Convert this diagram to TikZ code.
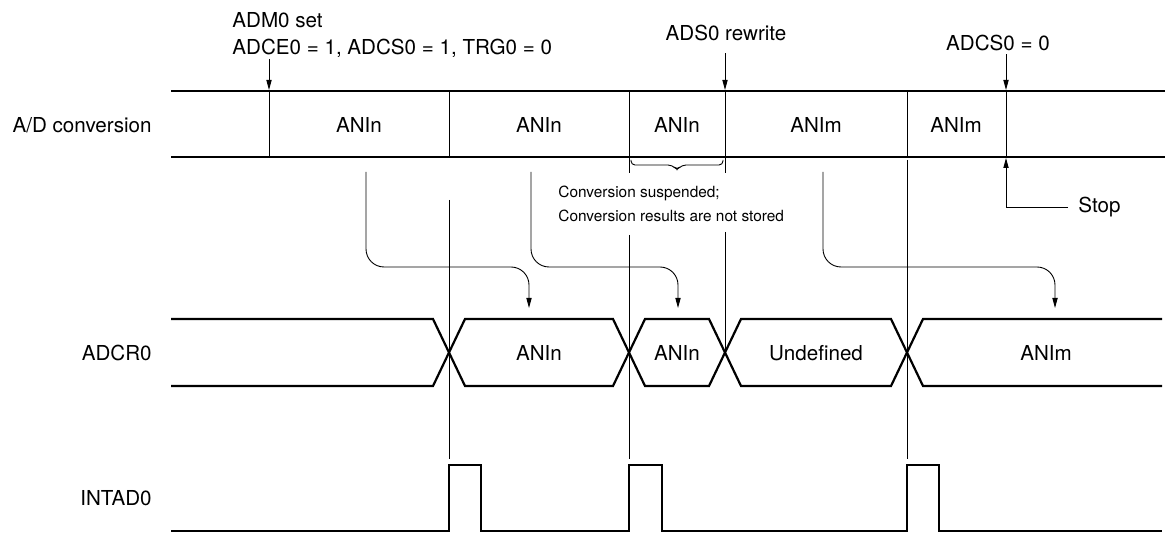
\documentclass[tikz,border=0pt]{standalone}
\usepackage{fontspec}
\setmainfont{TeX Gyre Heros}
\usetikzlibrary{arrows.meta}

\begin{document}
\begin{tikzpicture}[x=0.5pt, y=-0.5pt,
  sig/.style={line width=1.1pt, line join=miter},
  vline/.style={line width=0.45pt},
  arr/.style={line width=0.45pt, -{Triangle[length=5pt, width=2.6pt]}},
  bendarr/.style={arr, rounded corners=9pt},
  lbl/.style={font=\fontsize{10.3}{12}\selectfont, inner sep=0pt},
  note/.style={font=\fontsize{7.7}{10}\selectfont, inner sep=0pt, anchor=west},
]
\useasboundingbox (0,0) rectangle (1165,533);

% --- Signal names ---
\node[lbl, anchor=east] (adname) at (152,125) {A/D conversion};
\node[lbl, anchor=east] (crname) at (152,353) {ADCR0};
\node[lbl, anchor=east] (inname) at (152,498) {INTAD0};

% --- A/D conversion band ---
\draw[sig] (171,91) -- (1165,91);
\draw[sig] (171,157) -- (1165,157);
\foreach \t in {269,449,629,725,907,1006}
  \draw[vline] (\t,91) -- (\t,157);
\node[lbl] (c1) at (359,125) {ANIn};
\node[lbl] (c2) at (539,125) {ANIn};
\node[lbl] (c3) at (677,125) {ANIn};
\node[lbl] (c4) at (816,125) {ANIm};
\node[lbl] (c5) at (956,125) {ANIm};

% --- Events ---
\node[lbl, anchor=west] (set1) at (232,20) {ADM0 set};
\node[lbl, anchor=west] (set2) at (232,48) {ADCE0 = 1, ADCS0 = 1, TRG0 = 0};
\node[lbl] (rewr) at (726,33) {ADS0 rewrite};
\node[lbl] (clr) at (998,43) {ADCS0 = 0};
\coordinate (eA) at (269,90);
\coordinate (eD) at (725,90);
\coordinate (eF) at (1006,90);
\draw[arr] (269,59) -- (eA);
\draw[arr] (rewr.south -| eD) ++(0,12) -- (eD);
\draw[arr] (clr.south -| eF) ++(0,3) -- (eF);

% Stop
\node[lbl, anchor=west] (stop) at (1078,207) {Stop};
\draw[arr] (1068,207) -- (1006,207) -- (1006,158);

% Suspended span
\draw[vline] (629,157) -- (629,173);
\draw[vline] (725,157) -- (725,173);
\draw[vline, rounded corners=2pt] (631,160) |- (672,165) -- (677,170) -- (682,165) -| (723,160);
\node[note] (sus1) at (558,193) {Conversion suspended;};
\node[note] (sus2) at (558,216) {Conversion results are not stored};

% --- Result transfer ---
\draw[bendarr] (366,172) |- (529,267) -- (529,308);
\draw[bendarr] (531,172) |- (678,267) -- (678,308);
\draw[bendarr] (823,172) |- (1055,267) -- (1055,308);

% --- Guide lines ---
\draw[vline] (449,200) -- (449,459);
\draw[vline] (629,235) -- (629,459);
\draw[vline] (725,232) -- (725,353);
\draw[vline] (907,160) -- (907,459);

% --- ADCR0 ---
\draw[sig] (171,319) -- (433,319) -- (465,386) -- (613,386) -- (645,319)
  -- (709,319) -- (741,386) -- (891,386) -- (923,319) -- (1162,319);
\draw[sig] (171,386) -- (433,386) -- (465,319) -- (613,319) -- (645,386)
  -- (709,386) -- (741,319) -- (891,319) -- (923,386) -- (1162,386);
\node[lbl] (r1) at (539,353) {ANIn};
\node[lbl] (r2) at (677,353) {ANIn};
\node[lbl] (r3) at (816,353) {Undefined};
\node[lbl] (r4) at (1046,353) {ANIm};

% --- INTAD0 ---
\draw[sig] (171,531) -- (449,531) -- (449,465) -- (481,465) -- (481,531)
  -- (629,531) -- (629,465) -- (662,465) -- (662,531)
  -- (907,531) -- (907,465) -- (939,465) -- (939,531) -- (1162,531);

\end{tikzpicture}
\end{document}
